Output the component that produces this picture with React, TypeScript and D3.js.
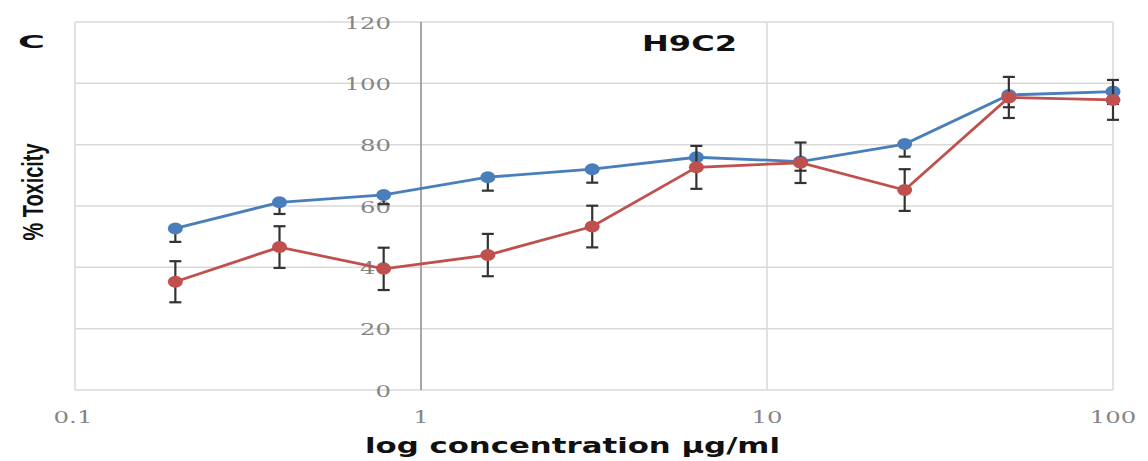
import React from "react";
import * as d3 from "d3";

// concentrations (µg/ml)
const conc = [0.195, 0.39, 0.78, 1.56, 3.125, 6.25, 12.5, 25, 50, 100];
// % toxicity, blue series
const blueVals = [52.7, 61.2, 63.6, 69.4, 72.0, 75.9, 74.5, 80.2, 96.2, 97.3];
const blueErr = [4.4, 3.8, 3.0, 4.4, 4.4, 3.0, 3.0, 4.1, 4.0, 4.0];
// % toxicity, red series
const redVals = [35.3, 46.6, 39.5, 44.0, 53.3, 72.6, 74.1, 65.2, 95.4, 94.6];
const redErr = [6.7, 6.8, 6.9, 6.9, 6.8, 7.0, 6.6, 6.8, 6.7, 6.5];

const yTicks = [0, 20, 40, 60, 80, 100, 120];
const xTicks = [0.1, 1, 10, 100];
const xTickLabels = ["0.1", "1", "10", "100"];

export default function App() {
  const width = 1148;
  const height = 461;
  const marginLeft = 75;
  const marginRight = 35;
  const marginTop = 22;
  const marginBottom = 71;

  const x = d3.scaleLog([0.1, 100], [marginLeft, width - marginRight]);
  const y = d3.scaleLinear([0, 120], [height - marginBottom, marginTop]);

  const line = d3
    .line<number>()
    .x((d, i) => x(conc[i]))
    .y((d) => y(d));

  const labelW = (s: string) => s.length * 15.5;
  const cap = 6;

  return (
    <svg
      width={width}
      height={height}
      style={{ position: "absolute", left: 0, top: 0, background: "#fff" }}
    >
      {/* horizontal grid */}
      {yTicks.map((t) => (
        <line
          key={"gy" + t}
          x1={x(0.1)}
          x2={x(100)}
          y1={y(t)}
          y2={y(t)}
          stroke="#d9d9d9"
          strokeWidth={1.5}
        />
      ))}
      {/* vertical grid, the one at 1 is the value axis */}
      {xTicks.map((t) => (
        <line
          key={"gx" + t}
          x1={x(t)}
          x2={x(t)}
          y1={y(120)}
          y2={y(0)}
          stroke={t === 1 ? "#a6a6a6" : "#d9d9d9"}
          strokeWidth={t === 1 ? 2 : 1.5}
        />
      ))}

      {/* y tick labels next to the axis at x = 1 */}
      {yTicks.map((t) => (
        <text
          key={"ly" + t}
          x={x(1) - 30}
          y={y(t) + 6.5}
          textAnchor="end"
          fontFamily="DejaVu Serif"
          fontSize={17}
          fill="#858585"
          textLength={labelW(String(t))}
          lengthAdjust="spacingAndGlyphs"
        >
          {t}
        </text>
      ))}

      {/* x tick labels */}
      {xTicks.map((t, i) => (
        <text
          key={"lx" + t}
          x={x(t) - (i === 0 ? 2 : 0)}
          y={y(0) + 33}
          textAnchor="middle"
          fontFamily="DejaVu Serif"
          fontSize={17}
          fill="#858585"
          textLength={i === 0 ? 39 : labelW(xTickLabels[i])}
          lengthAdjust="spacingAndGlyphs"
        >
          {xTickLabels[i]}
        </text>
      ))}

      {/* blue series */}
      <path d={line(blueVals) || ""} fill="none" stroke="#4a7ebb" strokeWidth={2.8} />
      {blueVals.map((v, i) => (
        <g key={"be" + i} stroke="#333" strokeWidth={2.2}>
          <line x1={x(conc[i])} x2={x(conc[i])} y1={y(v)} y2={y(v - blueErr[i])} />
          <line x1={x(conc[i]) - cap} x2={x(conc[i]) + cap} y1={y(v - blueErr[i])} y2={y(v - blueErr[i])} />
        </g>
      ))}
      {blueVals.map((v, i) => (
        <ellipse key={"bm" + i} cx={x(conc[i])} cy={y(v)} rx={7.5} ry={6} fill="#4a7ebb" />
      ))}

      {/* red series */}
      <path d={line(redVals) || ""} fill="none" stroke="#c0504d" strokeWidth={2.8} />
      {redVals.map((v, i) => (
        <g key={"re" + i} stroke="#333" strokeWidth={2.2}>
          <line x1={x(conc[i])} x2={x(conc[i])} y1={y(v + redErr[i])} y2={y(v - redErr[i])} />
          <line x1={x(conc[i]) - cap} x2={x(conc[i]) + cap} y1={y(v + redErr[i])} y2={y(v + redErr[i])} />
          <line x1={x(conc[i]) - cap} x2={x(conc[i]) + cap} y1={y(v - redErr[i])} y2={y(v - redErr[i])} />
        </g>
      ))}
      {redVals.map((v, i) => (
        <ellipse key={"rm" + i} cx={x(conc[i])} cy={y(v)} rx={7.5} ry={6} fill="#c0504d" />
      ))}

      {/* titles */}
      <text x={18} y={48} fontFamily="DejaVu Sans" fontWeight="bold" fontSize={18} fill="#111"
        textLength={27} lengthAdjust="spacingAndGlyphs">C</text>
      <text x={642} y={51} fontFamily="DejaVu Sans" fontWeight="bold" fontSize={22} fill="#111"
        textLength={95} lengthAdjust="spacingAndGlyphs">H9C2</text>
      <text
        transform={`translate(43,${192}) rotate(-90)`}
        textAnchor="middle"
        fontFamily="Liberation Sans Narrow, Liberation Sans"
        fontWeight="bold"
        fontSize={29}
        fill="#111"
        textLength={97}
        lengthAdjust="spacingAndGlyphs"
      >
        % Toxicity
      </text>
      <text
        x={(365 + 780) / 2}
        y={453}
        textAnchor="middle"
        fontFamily="DejaVu Sans"
        fontWeight="bold"
        fontSize={22}
        fill="#111"
        textLength={415}
        lengthAdjust="spacingAndGlyphs"
      >
        log concentration µg/ml
      </text>
    </svg>
  );
}
